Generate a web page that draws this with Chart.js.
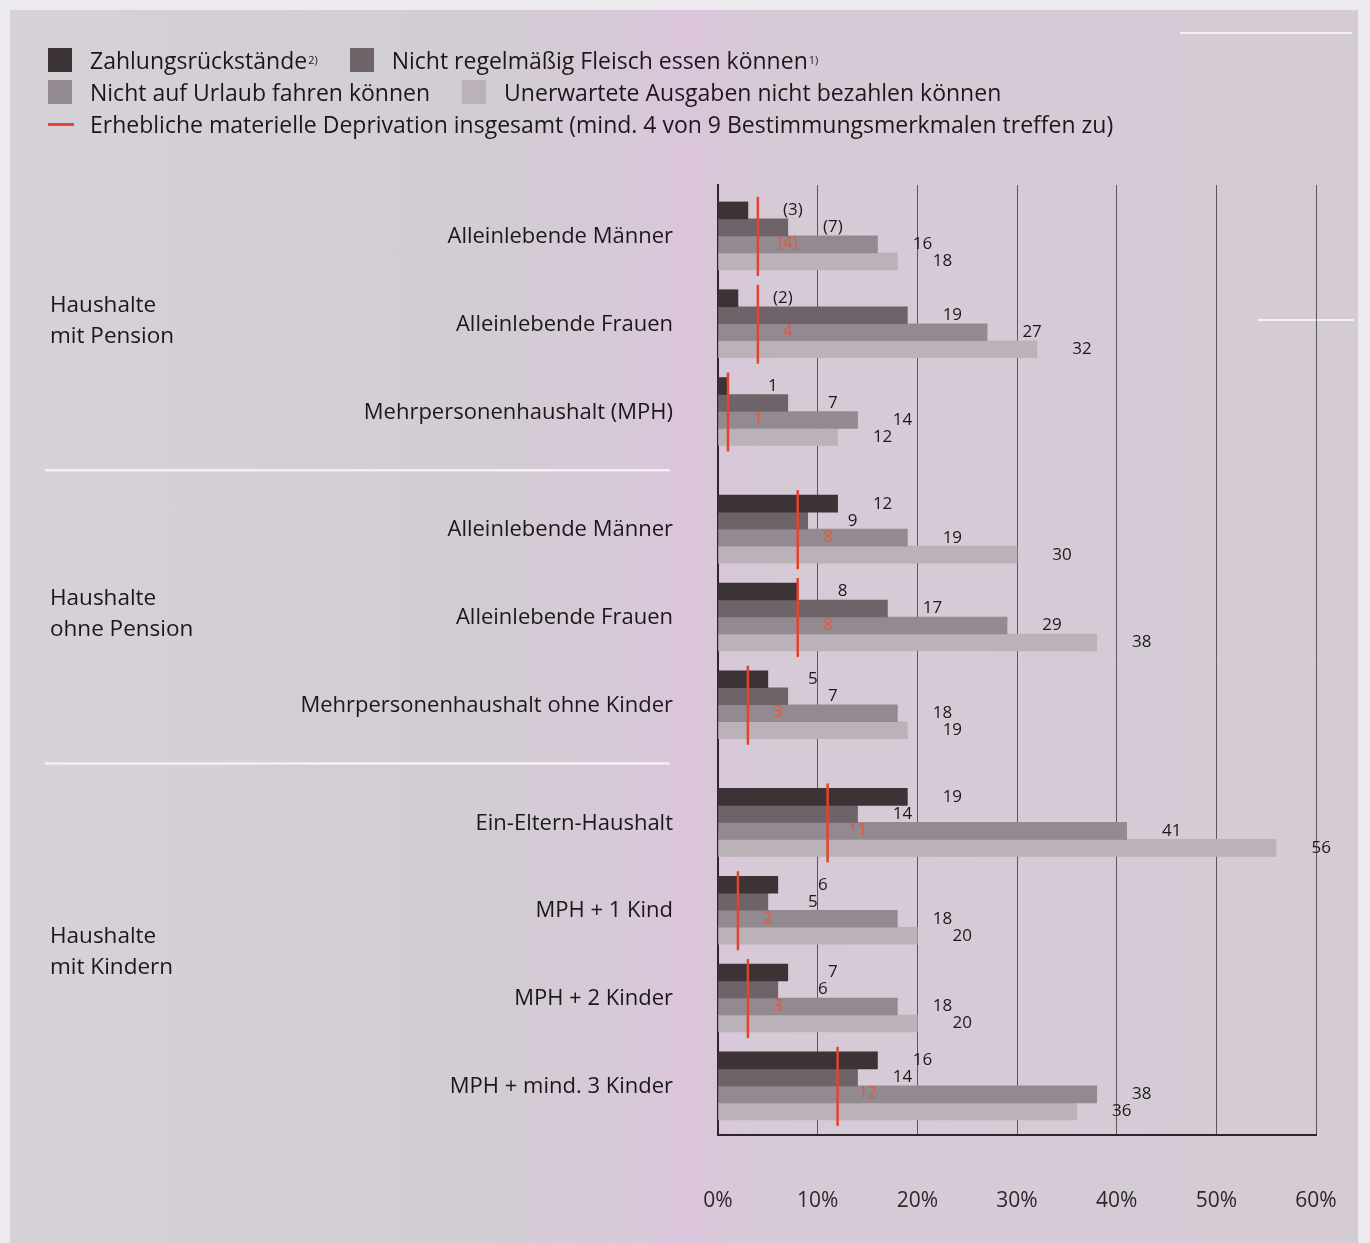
<!DOCTYPE html>
<html lang="de">
<head>
<meta charset="utf-8">
<title>Erhebliche materielle Deprivation nach Haushaltstyp</title>
<script src="https://cdn.jsdelivr.net/npm/chart.js@4.4.1/dist/chart.umd.min.js"></script>
<style>
  html, body { margin: 0; padding: 0; }
  body {
    width: 1370px; height: 1243px; position: relative; overflow: hidden;
    background: #eceaee; font-family: 'Open Sans', sans-serif; color: #1b181b;
  }
  .panel {
    position: absolute; left: 10px; top: 10px; right: 12px; bottom: 0;
    background: linear-gradient(to right, #d6d2d7 0%, #d2ccd3 35%, #d8c8d9 47%, #dbc5db 50%, #d6cad7 56%, #d4cbd4 100%);
  }
  .scan { position: absolute; height: 2px; background: #f4f1f5; }
  #legend { position: absolute; left: 48px; top: 44px; font-size: 23px; line-height: 32px; z-index: 2; }
  #legend .row { display: flex; align-items: center; white-space: nowrap; }
  #legend .item { display: flex; align-items: center; margin-right: 32px; }
  #legend .box { width: 24px; height: 24px; margin-right: 18px; }
  #legend .line { width: 26px; height: 3px; margin-right: 16px; background: #e2472f; }
  #legend sup { font-size: 11px; vertical-align: 9px; margin-left: 1px; }
  canvas { position: absolute; left: 0; top: 0; }
</style>
</head>
<body>
<div class="panel"></div>
<div class="scan" style="left:1180px; top:32px; width:172px;"></div>
<div class="scan" style="left:1258px; top:319px; width:96px;"></div>
<div id="legend"></div>
<canvas id="deprivationChart" width="1370" height="1243"></canvas>

<script>
/*=============== DATEN ===============*/
const kategorien = [
    'Alleinlebende Männer', 'Alleinlebende Frauen', 'Mehrpersonenhaushalt (MPH)',
    'Alleinlebende Männer', 'Alleinlebende Frauen', 'Mehrpersonenhaushalt ohne Kinder',
    'Ein-Eltern-Haushalt', 'MPH + 1 Kind', 'MPH + 2 Kinder', 'MPH + mind. 3 Kinder'
];
const gruppen = [['Haushalte', 'mit Pension'], ['Haushalte', 'ohne Pension'], ['Haushalte', 'mit Kindern']];
const gruppeVon = [0, 0, 0, 1, 1, 1, 2, 2, 2, 2];

const zahlungsrueckstaende = [3, 2, 1, 12, 8, 5, 19, 6, 7, 16];
const fleisch = [7, 19, 7, 9, 17, 7, 14, 5, 6, 14];
const urlaub = [16, 27, 14, 19, 29, 18, 41, 18, 18, 38];
const unerwartet = [18, 32, 12, 30, 38, 19, 56, 20, 20, 36];
const deprivation = [4, 4, 1, 8, 8, 3, 11, 2, 3, 12];

// Werte mit geringer Fallzahl, werden in Klammern gesetzt (Index der Kategorie)
const klammerZahlung = [0, 1];
const klammerFleisch = [0];
const klammerDeprivation = [0];

const xTicks = [0, 10, 20, 30, 40, 50, 60];

/*=============== LEGENDE ===============*/
const serien = [
    { name: 'Zahlungsrückstände', fussnote: '2)', farbe: '#3c3337', werte: zahlungsrueckstaende, klammer: klammerZahlung },
    { name: 'Nicht regelmäßig Fleisch essen können', fussnote: '1)', farbe: '#6d6369', werte: fleisch, klammer: klammerFleisch },
    { name: 'Nicht auf Urlaub fahren können', fussnote: '', farbe: '#928991', werte: urlaub, klammer: [] },
    { name: 'Unerwartete Ausgaben nicht bezahlen können', fussnote: '', farbe: '#bab1b9', werte: unerwartet, klammer: [] }
];
const deprivationName = 'Erhebliche materielle Deprivation insgesamt (mind. 4 von 9 Bestimmungsmerkmalen treffen zu)';

const legend = document.getElementById('legend');
const boxItem = s => `<span class="item"><span class="box" style="background:${s.farbe}"></span>${s.name}${s.fussnote ? '<sup>' + s.fussnote + '</sup>' : ''}</span>`;
legend.innerHTML =
    `<div class="row">${boxItem(serien[0])}${boxItem(serien[1])}</div>` +
    `<div class="row">${boxItem(serien[2])}${boxItem(serien[3])}</div>` +
    `<div class="row"><span class="item"><span class="line"></span>${deprivationName}</span></div>`;

// Position auf der y-Achse: kleiner Abstand zwischen den Gruppen
const pos = gruppeVon.map((g, i) => i + g * 0.34);

const fmt = (v, i, liste) => liste.includes(i) ? `(${v})` : `${v}`;

const schrift = "'Open Sans'";

/*=============== BESCHRIFTUNG ===============*/
const beschriftung = {
    id: 'beschriftung',
    beforeDatasetsDraw(chart) {
        const { ctx, scales: { y } } = chart;
        ctx.save();

        // Trennlinien zwischen den Gruppen
        ctx.strokeStyle = 'rgba(244,240,245,0.95)';
        ctx.lineWidth = 2.5;
        for (let i = 1; i < pos.length; i++) {
            if (gruppeVon[i] !== gruppeVon[i - 1]) {
                const yy = (y.getPixelForValue(pos[i - 1]) + y.getPixelForValue(pos[i])) / 2;
                ctx.beginPath();
                ctx.moveTo(45, yy);
                ctx.lineTo(670, yy);
                ctx.stroke();
            }
        }

        // Kategorien
        ctx.fillStyle = '#1b181b';
        ctx.font = '22px ' + schrift;
        ctx.textAlign = 'right';
        ctx.textBaseline = 'middle';
        kategorien.forEach((k, i) => ctx.fillText(k, 673, y.getPixelForValue(pos[i]) + 1));

        // Gruppen
        ctx.textAlign = 'left';
        ctx.font = '22.5px ' + schrift;
        gruppen.forEach((zeilen, g) => {
            const idx = pos.filter((p, i) => gruppeVon[i] === g);
            const mitte = (y.getPixelForValue(idx[0]) + y.getPixelForValue(idx[idx.length - 1])) / 2;
            zeilen.forEach((z, j) => ctx.fillText(z, 50, mitte - 15 + j * 31 - 3));
        });
        ctx.restore();
    },
    afterDatasetsDraw(chart) {
        const { ctx, scales: { x, y } } = chart;
        ctx.save();
        ctx.textAlign = 'center';
        ctx.textBaseline = 'middle';

        // Werte neben den Balken
        ctx.font = '17px ' + schrift;
        ctx.fillStyle = '#1b181b';
        serien.forEach((s, di) => {
            chart.getDatasetMeta(di).data.forEach((bar, i) => {
                ctx.fillText(fmt(s.werte[i], i, s.klammer), bar.x + 45, bar.y);
            });
        });

        // Erhebliche materielle Deprivation
        ctx.font = '16px ' + schrift;
        deprivation.forEach((v, i) => {
            const px = x.getPixelForValue(v);
            const py = y.getPixelForValue(pos[i]);
            ctx.strokeStyle = '#e2452e';
            ctx.lineWidth = 2.5;
            ctx.beginPath();
            ctx.moveTo(px, py - 39);
            ctx.lineTo(px, py + 40);
            ctx.stroke();
            ctx.fillStyle = '#e4583c';
            ctx.fillText(fmt(v, i, klammerDeprivation), px + 30, py + 8);
        });
        ctx.restore();
    }
};

/*=============== DIAGRAMM ===============*/
const ctx = document.getElementById('deprivationChart').getContext('2d');

new Chart(ctx, {
    type: 'bar',
    data: {
        datasets: serien.map(s => ({
            label: s.name,
            data: s.werte.map((v, i) => ({ x: v, y: pos[i] })),
            backgroundColor: s.farbe,
            borderWidth: 0,
            barThickness: 17
        }))
    },
    options: {
        indexAxis: 'y',
        responsive: false,
        animation: false,
        layout: { padding: { left: 718, right: 54, top: 185, bottom: 8 } },
        plugins: {
            legend: { display: false },
            tooltip: { enabled: false }
        },
        scales: {
            x: {
                type: 'linear',
                min: 0,
                max: 60,
                afterBuildTicks: s => { s.ticks = xTicks.map(v => ({ value: v })); },
                afterFit: s => { s.height = 100; },
                ticks: {
                    padding: 0,
                    callback: v => v + '%',
                    color: '#2b282b',
                    font: { family: 'Open Sans', size: 21 }
                },
                grid: {
                    color: 'rgba(70,64,70,0.85)',
                    lineWidth: 1,
                    drawTicks: true,
                    tickLength: 53,
                    tickColor: 'rgba(0,0,0,0)'
                },
                border: { display: true, color: '#2a262a', width: 2 }
            },
            y: {
                type: 'linear',
                reverse: true,
                offset: false,
                min: -0.58,
                max: 10.24,
                afterFit: s => { s.width = 0; },
                ticks: { display: false },
                grid: { display: false, drawTicks: false, offset: false },
                border: { display: true, color: '#2a262a', width: 2 }
            }
        }
    },
    plugins: [beschriftung]
});
</script>
</body>
</html>
